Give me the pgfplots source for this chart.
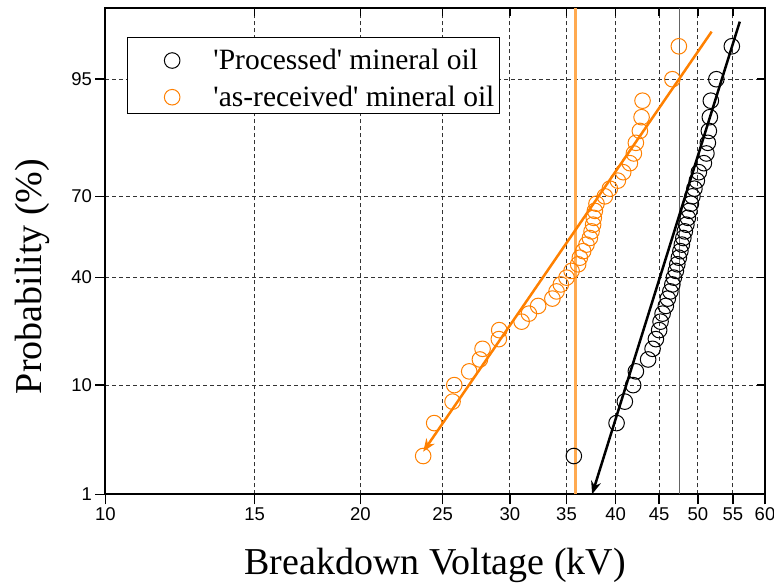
\documentclass[border=0pt]{standalone}
\usepackage{fontspec}
\setmainfont{Liberation Serif}
\newfontfamily\sansfont{Liberation Sans}
\usepackage{pgfplots}
\pgfplotsset{compat=1.18}
\usepackage{pgfplotstable}
\usetikzlibrary{arrows.meta}

\definecolor{orng}{RGB}{255,128,0}
\definecolor{orngl}{RGB}{255,170,80}
\definecolor{vgray}{RGB}{100,100,100}

% kV = breakdown voltage, P = cumulative probability (%), z = normal-probability-scale value of P
\pgfplotstableread{
kV P z
35.70 2.5 -1.9600
40.09 5.0 -1.6449
41.00 7.5 -1.4395
41.94 10.0 -1.2816
42.25 12.5 -1.1503
43.68 15.0 -1.0364
44.21 17.5 -0.9346
44.61 20.0 -0.8416
45.01 22.5 -0.7554
45.18 25.0 -0.6745
45.43 27.5 -0.5978
45.83 30.0 -0.5244
46.08 32.5 -0.4538
46.40 35.0 -0.3853
46.65 37.5 -0.3186
46.84 40.0 -0.2533
47.10 42.5 -0.1891
47.28 45.0 -0.1257
47.48 47.5 -0.0627
47.68 50.0 0.0000
47.87 52.5 0.0627
48.06 55.0 0.1257
48.26 57.5 0.1891
48.46 60.0 0.2533
48.66 62.5 0.3186
48.86 65.0 0.3853
49.06 67.5 0.4538
49.26 70.0 0.5244
49.53 72.5 0.5978
49.86 75.0 0.6745
50.13 77.5 0.7554
50.82 80.0 0.8416
51.17 82.5 0.9346
51.37 85.0 1.0364
51.51 87.5 1.1503
51.65 90.0 1.2816
51.79 92.5 1.4395
52.57 95.0 1.6449
54.83 97.5 1.9600
}\processed

\pgfplotstableread{
kV P z
23.71 2.5 -1.9600
24.43 5.0 -1.6449
25.68 7.5 -1.4395
25.80 10.0 -1.2816
26.87 12.5 -1.1503
27.66 15.0 -1.0364
27.86 17.5 -0.9346
29.12 20.0 -0.8416
29.15 22.5 -0.7554
30.98 25.0 -0.6745
31.60 27.5 -0.5978
32.40 30.0 -0.5244
33.68 32.5 -0.4538
34.06 35.0 -0.3853
34.46 37.5 -0.3186
35.00 40.0 -0.2533
35.48 42.5 -0.1891
36.12 45.0 -0.1257
36.29 47.5 -0.0627
36.62 50.0 0.0000
36.95 52.5 0.0627
37.29 55.0 0.1257
37.46 57.5 0.1891
37.62 60.0 0.2533
37.69 62.5 0.3186
37.80 65.0 0.3853
37.97 67.5 0.4538
38.84 70.0 0.5244
39.37 72.5 0.5978
40.23 75.0 0.6745
40.82 77.5 0.7554
41.57 80.0 0.8416
42.02 82.5 0.9346
42.25 85.0 1.0364
42.71 87.5 1.1503
42.91 90.0 1.2816
43.02 92.5 1.4395
46.65 95.0 1.6449
47.48 97.5 1.9600
}\received

\begin{document}
\begin{tikzpicture}
\begin{axis}[
  scale only axis, width=659.7pt, height=486.3pt,
  xmode=log, xmin=10, xmax=60,
  ymin=-2.3263, ymax=2.3263,
  xtick={10,15,20,25,30,35,40,45,50,55,60},
  xticklabels={10,15,20,25,30,35,40,45,50,55,60},
  minor xtick={},
  ytick={-2.3263,-1.2816,-0.2533,0.5244,1.6449},
  yticklabels={1,10,40,70,95},
  xtick pos=left, ytick pos=left, tick align=outside,
  major tick length=10pt,
  tick style={black, line width=1.5pt},
  axis line style={line width=2pt},
  grid=major,
  major grid style={black!80, line width=1pt, dash pattern=on 4pt off 3pt},
  tick label style={font=\sansfont\fontsize{18.5}{20}\selectfont},
  xlabel={Breakdown Voltage (kV)},
  ylabel={Probability (\%)},
  label style={font=\fontsize{38}{40}\selectfont},
  xlabel style={at={(axis description cs:0.5,-0.1639)}, anchor=base},
  ylabel style={at={(axis description cs:-0.0960,0.448)}, anchor=base},
  clip=false,
  legend cell align=left,
  legend style={at={(axis description cs:0.0333,0.9397)}, anchor=north west,
    draw=black, line width=1pt, fill=white,
    font=\fontsize{29.5}{30}\selectfont,
    inner xsep=5pt, inner ysep=4pt, row sep=6pt,
    nodes={inner sep=0pt, text height=27.7pt, text depth=3pt, anchor=base west},
    /tikz/every even column/.append style={column sep=0pt}},
  legend image code/.code={\path[draw=none] (-39.4pt,9pt) -- (41.3pt,9pt); \draw[#1] plot coordinates {(0pt,9pt)};},
]
\coordinate (BL) at (rel axis cs:0,0);
\coordinate (TR) at (rel axis cs:1,1);
% vertical reference lines at 35.87 kV and 47.6 kV
\addplot[color=orngl, solid, mark=none, line width=2.5pt, forget plot] coordinates {(35.87,-2.3263) (35.87,2.3263)};
\addplot[color=vgray, solid, mark=none, line width=1.3pt, forget plot] coordinates {(47.6,-2.3263) (47.6,2.3263)};
\addplot[only marks, mark=o, mark size=7.8pt, black, mark options={line width=1pt}] table[x=kV, y=z] {\processed};
\addlegendentry{\textquotesingle Processed\textquotesingle{} mineral oil}
\addplot[only marks, mark=o, mark size=7.8pt, orng, mark options={line width=1pt}] table[x=kV, y=z] {\received};
\addlegendentry{\textquotesingle as-received\textquotesingle{} mineral oil}
\addplot[orng, line width=2.5pt, -{Stealth[length=13pt,width=10pt]}, forget plot] coordinates {(51.9,2.100) (23.71,-1.919)};
\addplot[black, line width=2.5pt, -{Stealth[length=13pt,width=10pt]}, forget plot] coordinates {(56.03,2.196) (37.52,-2.326)};
\end{axis}
\begin{axis}[
  scale only axis, width=659.7pt, height=486.3pt,
  xmode=log, xmin=10, xmax=60,
  ymin=-2.3263, ymax=2.3263,
  xtick={10,15,20,25,30,35,40,45,50,55,60},
  minor xtick={},
  ytick={-2.3263,-1.2816,-0.2533,0.5244,1.6449},
  xticklabel=\empty, yticklabel=\empty,
  xtick pos=right, ytick pos=right, tick align=inside,
  major tick length=8pt,
  tick style={black, line width=1.5pt},
  axis line style={draw=none},
]
\end{axis}
\pgfresetboundingbox
\path[use as bounding box] ([xshift=-105.3pt,yshift=-90.7pt]BL) rectangle ([xshift=9pt,yshift=8pt]TR);
\end{tikzpicture}
\end{document}
